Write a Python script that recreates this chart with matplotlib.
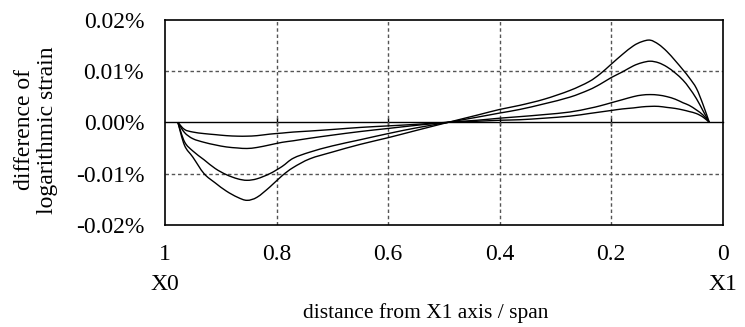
import matplotlib
matplotlib.use("Agg")
import matplotlib.pyplot as plt
import numpy as np
from matplotlib.path import Path
from matplotlib.patches import PathPatch
from matplotlib.ticker import FuncFormatter

plt.rcParams["font.family"] = ["Liberation Serif", "DejaVu Serif"]

# stations along the span (distance from X1 axis / span)
x_pos = [0.977, 0.965, 0.95, 0.93, 0.91, 0.89, 0.87, 0.853, 0.835, 0.812,
         0.79, 0.77, 0.74, 0.70, 0.65, 0.60, 0.55, 0.492, 0.44, 0.40,
         0.364, 0.32, 0.274, 0.24, 0.22, 0.20, 0.18, 0.16, 0.145, 0.13,
         0.115, 0.10, 0.085, 0.071, 0.06, 0.047, 0.035, 0.024]

# difference of logarithmic strain, in percent
strain_a = [0, -0.0014, -0.0019, -0.0022, -0.0024, -0.0026, -0.0027, -0.0027, -0.0026, -0.0023,
            -0.0021, -0.0019, -0.0017, -0.0014, -0.0010, -0.0007, -0.0004, 0.0, 0.0002, 0.0004,
            0.0005, 0.0008, 0.0012, 0.0017, 0.0020, 0.0023, 0.0026, 0.0028, 0.0030, 0.0031,
            0.0031, 0.0029, 0.0027, 0.0024, 0.0021, 0.0017, 0.0010, 0.0]
strain_b = [0, -0.0020, -0.0032, -0.0039, -0.0044, -0.0048, -0.0050, -0.0051, -0.0049, -0.0044,
            -0.0039, -0.0036, -0.0031, -0.0025, -0.0018, -0.0012, -0.0006, 0.0, 0.0004, 0.0008,
            0.0011, 0.0015, 0.0020, 0.0027, 0.0032, 0.0038, 0.0044, 0.0050, 0.0053, 0.0054,
            0.0053, 0.0050, 0.0045, 0.0038, 0.0033, 0.0024, 0.0014, 0.0]
strain_c = [0, -0.0038, -0.0056, -0.0073, -0.0090, -0.0102, -0.0110, -0.0113, -0.0110, -0.0100,
            -0.0086, -0.0070, -0.0058, -0.0046, -0.0034, -0.0022, -0.0011, 0.0, 0.0010, 0.0018,
            0.0025, 0.0036, 0.0049, 0.0063, 0.0074, 0.0087, 0.0098, 0.0110, 0.0116, 0.0119,
            0.0116, 0.0108, 0.0096, 0.0082, 0.0067, 0.0046, 0.0022, 0.0]
strain_d = [0, -0.0045, -0.0068, -0.0100, -0.0118, -0.0134, -0.0146, -0.0152, -0.0146, -0.0126,
            -0.0104, -0.0088, -0.0071, -0.0058, -0.0043, -0.0030, -0.0016, 0.0, 0.0014, 0.0025,
            0.0033, 0.0045, 0.0062, 0.0079, 0.0094, 0.0113, 0.0132, 0.0149, 0.0157, 0.0160,
            0.0152, 0.0138, 0.0120, 0.0102, 0.0087, 0.0066, 0.0034, 0.0]

x_ticks = [1.0, 0.8, 0.6, 0.4, 0.2, 0.0]
x_ticklabels = ["1", "0.8", "0.6", "0.4", "0.2", "0"]
y_ticks = [-0.02, -0.01, 0.0, 0.01, 0.02]
end_labels = {1.0: "X0", 0.0: "X1"}


def smooth_path(xs, ys):
    """Bezier path passing through every point (Catmull-Rom tangents)."""
    p = np.column_stack([xs, ys]).astype(float)
    ext = np.vstack([p[0], p, p[-1]])
    verts = [p[0]]
    codes = [Path.MOVETO]
    for i in range(len(p) - 1):
        p0, p1, p2, p3 = ext[i], ext[i + 1], ext[i + 2], ext[i + 3]
        verts += [p1 + (p2 - p0) / 6.0, p2 - (p3 - p1) / 6.0, p2]
        codes += [Path.CURVE4] * 3
    return Path(verts, codes)


fig = plt.figure(figsize=(7.45, 3.27), dpi=100)
ax = fig.add_axes([0.2215, 0.312, 0.7485, 0.628])

for series in (strain_a, strain_b, strain_c, strain_d):
    ax.add_patch(PathPatch(smooth_path(x_pos, series), fill=False,
                           edgecolor="black", lw=1.0, zorder=3))

ax.set_xlim(1.0, 0.0)
ax.set_ylim(-0.02, 0.02)
ax.set_xticks(x_ticks)
ax.set_xticklabels(x_ticklabels)
ax.set_yticks(y_ticks)
ax.yaxis.set_major_formatter(FuncFormatter(lambda v, p: f"{v:.2f}%"))
ax.tick_params(axis="both", length=0, labelsize=17)
ax.tick_params(axis="x", pad=14)
ax.tick_params(axis="y", pad=15)

# dashed grid on interior ticks only
for xv in x_ticks[1:-1]:
    ax.axvline(xv, color="#555555", lw=1.0, ls=(0, (2.5, 2)), zorder=1)
for yv in (-0.01, 0.01):
    ax.axhline(yv, color="#555555", lw=1.0, ls=(0, (2.5, 2)), zorder=1)

for s in ax.spines.values():
    s.set_linewidth(1.2)

# horizontal axis line through zero with crossing ticks
zero_axis = ax.secondary_xaxis(0.5)
zero_axis.set_xticks(x_ticks[1:-1])
zero_axis.tick_params(direction="inout", length=6, width=1.0,
                      labelbottom=False, labeltop=False)
zero_axis.spines["bottom"].set_linewidth(1.0)
zero_axis.spines["top"].set_linewidth(1.0)

for xv, lab in end_labels.items():
    ax.annotate(lab, xy=(xv, 0), xycoords=("data", "axes fraction"),
                xytext=(0, -43), textcoords="offset points",
                ha="center", va="center", fontsize=17)

fig.text(426 / 745, 1 - 313 / 327, "distance from X1 axis / span",
         ha="center", va="center", fontsize=15.5)
fig.text(36 / 745, 1 - 130 / 327, "difference of\nlogarithmic strain",
         rotation=90, ha="center", va="center", multialignment="center",
         fontsize=17, linespacing=1.1)

fig.savefig("out.png", dpi=100)
